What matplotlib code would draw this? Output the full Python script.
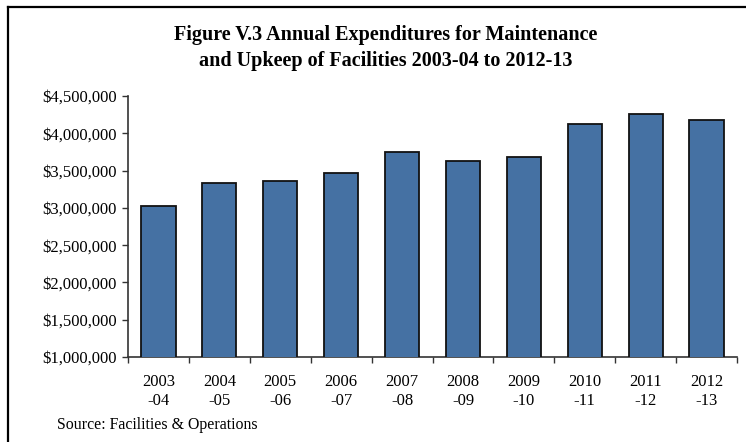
import matplotlib
matplotlib.use("Agg")
import matplotlib.pyplot as plt
from matplotlib.lines import Line2D
import numpy as np

categories = ["2003\n-04", "2004\n-05", "2005\n-06", "2006\n-07", "2007\n-08",
              "2008\n-09", "2009\n-10", "2010\n-11", "2011\n-12", "2012\n-13"]
values = [3030000, 3335000, 3356000, 3473000, 3755000,
          3625000, 3684000, 4120000, 4255000, 4180000]
ytick_values = [1000000, 1500000, 2000000, 2500000, 3000000, 3500000, 4000000, 4500000]
title = "Figure V.3 Annual Expenditures for Maintenance\nand Upkeep of Facilities 2003-04 to 2012-13"
source = "Source: Facilities & Operations"

plt.rcParams['font.family'] = ['Liberation Serif', 'DejaVu Serif']

fig = plt.figure(figsize=(7.46, 4.42), dpi=100)
ax = fig.add_axes([128/746, 1-357/442, (737-128)/746, (357-96)/442])

x = np.arange(len(categories))
ax.bar(x, values, width=0.56, bottom=0, color="#4571a3", edgecolor="#111111", linewidth=1.3, zorder=3)

ax.set_ylim(1000000, 4500000)
ax.set_xlim(-0.5, len(categories)-0.5)
ax.set_yticks(ytick_values)
ax.set_yticklabels([f"${v:,.0f}" for v in ytick_values], fontsize=12)
ax.set_xticks(x)
ax.set_xticklabels(categories, fontsize=12, linespacing=1.25)
ax.set_xticks(np.arange(-0.5, len(categories)), minor=True)
ax.tick_params(axis='x', which='major', length=0, pad=12)
ax.tick_params(axis='x', which='minor', length=4, direction='out', width=1, color='#333333')
ax.tick_params(axis='y', length=4, direction='out', width=1, color='#333333', pad=4)
for s in ['top', 'right']:
    ax.spines[s].set_visible(False)
for s in ['left', 'bottom']:
    ax.spines[s].set_color('#333333')
    ax.spines[s].set_linewidth(1.2)

fig.text(386/746, 1-48/442, title, ha='center', va='center', fontsize=14.5, fontweight='bold', linespacing=1.35)
fig.text(57/746, 1-425/442, source, ha='left', va='center', fontsize=11.4)

# outer frame (left and top edges)
fig.add_artist(Line2D([8/746, 8/746], [0, 1-7/442], transform=fig.transFigure, color='black', lw=1.6))
fig.add_artist(Line2D([8/746, 1], [1-7/442, 1-7/442], transform=fig.transFigure, color='black', lw=1.6))

fig.savefig("out.png", dpi=100)
